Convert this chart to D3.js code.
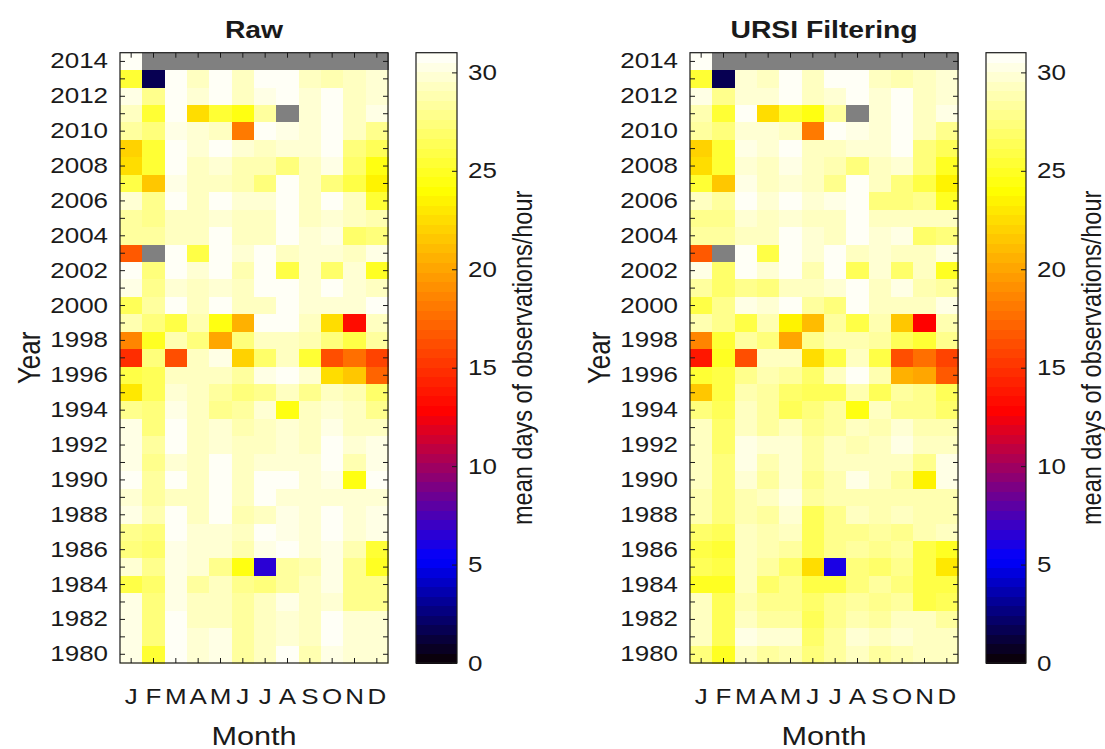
<!DOCTYPE html>
<html><head><meta charset="utf-8">
<script src="https://cdn.jsdelivr.net/npm/d3@7"></script>
<style>
body{margin:0;background:#fff}
svg text{font-family:"Liberation Sans",Arial,Helvetica,sans-serif;fill:#1a1a1a}
</style>
</head><body>
<svg id="chart" width="1105" height="749"></svg>
<script>
// ---------------- DATA ----------------
const years = d3.range(2014, 1979, -1);           // rows, top to bottom
const months = ["J","F","M","A","M","J","J","A","S","O","N","D"];
const yearTickLabels = d3.range(2014, 1979, -2);
const colorbarTicks = [0,5,10,15,20,25,30];
const colorDomain = [0, 31];
const titles = ["Raw", "URSI Filtering"];
const N = null;

const rawValues = [
[31,N,N,N,N,N,N,N,N,N,N,N],
[25.5,1.8,31,29.5,31,29.5,31,31,29.5,29,29.5,30],
[30.5,28,31,30,31,29.5,30.5,31,30,31,29.5,30],
[29.5,25.5,31,22.5,25.5,24.3,28.5,N,30,31,29.5,30.5],
[28.5,27.5,30.5,30,29.5,18,31,30.5,30,31,29.5,28],
[22,25.3,31,30,31,30,29.5,30,30,31,27.5,26.5],
[22.3,25.3,31,29.5,30,29,29,27.5,29.5,30.5,27,24.6],
[26,21.5,30.5,29.5,29.5,29,27.5,31,29.5,27.5,26,23.5],
[30,28,31,29.5,31,30,30,31,29.5,31,29.5,25.5],
[28.5,28,29.5,29.5,30,29.5,29.5,31,29.5,30,29.5,29],
[28.5,28.5,29.5,29.5,31,29.5,29.5,31,30,30.5,27,27.5],
[16.5,N,31,26,31,30,31,29.5,30,30,29.5,30.5],
[31,27.5,31,30,31,29,31,26,30,27,30,25],
[30.5,28,30,29.5,30,29.5,31,31,30,31,30,29.5],
[26.5,28.5,31,29.5,31,29.5,29.5,31,30,30,30,31],
[29,27.5,26,29,24.5,20.5,31,31,29.5,22.5,13.5,29.5],
[18.5,25,29,27.5,20,27.5,29.5,29.5,29,27.5,26,28.5],
[15,27.5,16,29.5,30.5,22,27,29.5,25.5,16,17.5,15.5],
[26,26.5,29.5,29.5,29.5,28.5,30.5,31,30,22.5,21.5,17],
[23,26.5,30,29.5,28.5,27.5,28,29.5,28,29.5,29,27],
[28,27.5,30.5,29.5,28,28.5,30,24.5,29.5,30,29.5,28],
[30.5,27.5,31,29.5,30,29,29.5,30,29.5,30.5,29.5,29.5],
[30.5,28.5,31,29.5,30,29.5,29.5,30,29.5,31,30,30.5],
[30.5,28,30,29.5,31,29.5,30,30,30,31,29,30.5],
[31,28.5,31,29.5,31,29.5,31,31,30,30.5,24.5,31],
[30,28.5,29.5,29.5,31,29.5,31,30,30,30,30,30],
[30.5,29,31,29.5,31,29,29.5,30.5,30,31,30,30.5],
[28,27.5,31,30,30,29.5,31,30.5,30,31,30,30.5],
[27.5,27,30.5,30,30,29,30.5,31,30,30.5,29,25.5],
[30,28,30.5,30,28,24.5,6.3,28.5,29,30.5,28,25],
[26,27,30.5,28.5,29.5,28,27.5,28.5,29.5,30.5,28,28],
[30.5,27.5,30.5,29.5,29.5,28.5,29.5,30.5,29.5,30,28,28],
[30.5,27.5,31,29.5,29.5,28.5,29.5,30,29.5,31,30,30],
[30.5,27.5,31,30,30.5,28.5,29.5,30,29.5,31,30,30],
[30.5,25.3,31,30,30.5,28.5,29.5,31,29,30.5,30,30]
];

const ursiValues = [
[31,N,N,N,N,N,N,N,N,N,N,N],
[25.5,1.8,30,29.5,31,29.5,31,31,29.5,29,29.5,30],
[30.5,28,30,30,31,29.5,30,31,30,31,29.5,30],
[29,25.3,31,22.5,25.5,24.3,28.5,N,30,31,29.5,30.5],
[28.5,27.5,30,30,29.5,18,31,30.5,30,31,29.5,28],
[22,25.3,30.5,30,31,29.5,29.5,30,30,31,27.5,26.5],
[22.3,25.3,30,29.5,30.5,29.5,29,27.5,29.5,30,27.5,24.8],
[25.3,21.5,30.5,29.5,30,29.5,28,31,29.5,27.5,26,23.5],
[29.5,28.5,31,30,31,30,30.5,31,27.5,27.5,28,25],
[28,28,30,29.5,30,29.5,29.5,31,29.5,29.5,29.5,29.5],
[28.5,28.5,29.5,29.5,31,30,29.5,31,30,30.5,27,27.5],
[16.5,N,31,26,31,30,31,29.5,30,29.5,29.5,30.5],
[30.5,27,31,30,31,29,31,26.5,30,27,29.5,25],
[28.5,27,28,27.5,29.5,29.5,30,31,29.5,30.5,29,28.5],
[26,28,30.5,30,31,28.5,27.5,31,29.5,29.5,29.5,30.5],
[29,28,26,29,23.5,21,28.5,26,29,21.5,13,29],
[18.5,25.3,28.5,27.5,20,28,29,29,28.5,26.5,25.5,28],
[14,25,16,29.5,29.5,22.5,26,29.5,26,16,17.5,15.5],
[25.5,26,28,29,28.5,27,29.5,31,29,20.5,20,16.5],
[21.5,26,29,28.5,27,26.5,26.5,29,26.5,28.5,28,26.5],
[27.5,26.5,29.5,28.5,26.5,27.5,28.5,24.3,29.5,28,28,27],
[29.5,27,29.5,28.5,29.5,28,28.5,29.5,29,30,29,29],
[29.5,27,30.5,30,30,28.5,29.5,29,29.5,30.5,29.5,29.5],
[29.5,27.5,30.5,29,30,28.5,29.5,29.5,29.5,29.5,28,30.5],
[29.5,27.5,30,28.5,30,28,29,30.5,29.5,28.5,23.5,30.5],
[29,27.5,29,29.5,30.5,28.5,29,29,29,29,29,29],
[29,27.5,29,28.5,30,26.5,28,29.5,29,29.5,29,29],
[27,26.5,29.5,29,29.5,26.5,28,28,28.5,28,29,29.5],
[26,25.5,29.5,29,28.5,26.5,28,28.5,28,28.5,26,25],
[26.5,26,29.5,28.5,27,22.5,6.0,27.5,27,28,26,23],
[25,25,29.5,27,28,26,26,27.5,28.5,27.5,26,26],
[29.5,26.5,29,28,28,27,28,28.5,28,28.5,26,26.5],
[29.5,26.5,29.5,28.5,28.5,26.5,28,29,28.5,29.5,29.5,28.5],
[29.5,26.5,30.5,30,30,27,28.5,30,29.5,30,29.5,29.5],
[27.5,25,29.5,28.5,29,27.5,28.5,29.5,28.5,29,29.5,29.5]
];

// ---------------- STYLE / LAYOUT ----------------
const SX = 1.18;          // horizontal text stretch of the reference
const TICK_FS = 22, LABEL_FS = 26, TITLE_FS = 24, CB_LABEL_FS = 23.5;
const yTop = 52.7, yBot = 663;
const panels = [
  {x0: 120, x1: 388, cb0: 416, cb1: 457, data: rawValues, title: titles[0]},
  {x0: 690, x1: 958, cb0: 986, cb1: 1026, data: ursiValues, title: titles[1]}
];
const NLEV = 64;
const cmapCont = d3.scaleLinear()
  .domain([0, 5.3, 12.8, 24, 31])
  .range(["#0a0000", "#0000ff", "#ff0000", "#ffff00", "#ffffff"])
  .interpolate(d3.interpolateRgb).clamp(true);
const levelOf = v => Math.max(0, Math.min(NLEV - 1, Math.floor((v - colorDomain[0]) / (colorDomain[1] - colorDomain[0]) * NLEV)));
const levelColor = l => cmapCont(colorDomain[0] + (l + 0.5) / NLEV * (colorDomain[1] - colorDomain[0]));
const colorOf = v => v == null ? "#808080" : levelColor(levelOf(v));

const svg = d3.select("#chart");

function stretchText(sel) {
  sel.each(function() {
    const x = +this.getAttribute("x") || 0;
    const y = +this.getAttribute("y") || 0;
    d3.select(this).attr("transform", `translate(${x},${y}) scale(${SX},1) translate(${-x},${-y})`);
  });
}
function addText(g, x, y, str, opts) {
  return g.append("text")
    .attr("transform", `translate(${x},${y}) scale(${SX},1)` + (opts.rotate ? ` rotate(${opts.rotate})` : ""))
    .attr("text-anchor", opts.anchor || "middle")
    .attr("font-size", opts.size)
    .attr("font-weight", opts.weight || "normal")
    .text(str);
}

panels.forEach(p => {
  const g = svg.append("g");
  const x = d3.scaleBand().domain(d3.range(12)).range([p.x0, p.x1]);
  const y = d3.scaleBand().domain(years).range([yTop, yBot]);

  const cells = [];
  p.data.forEach((row, i) => row.forEach((v, j) => cells.push({year: years[i], m: j, v})));
  g.append("g").selectAll("rect").data(cells).join("rect")
    .attr("x", d => x(d.m)).attr("y", d => y(d.year))
    .attr("width", x.bandwidth() + 0.6).attr("height", y.bandwidth() + 0.6)
    .attr("fill", d => colorOf(d.v))
    .attr("shape-rendering", "crispEdges");

  const yl = g.append("g").attr("transform", `translate(${p.x0},0)`)
    .call(d3.axisLeft(y).tickValues(years).tickSizeInner(-5).tickSizeOuter(0).tickPadding(12)
      .tickFormat(d => yearTickLabels.includes(d) ? d : ""));
  const yr = g.append("g").attr("transform", `translate(${p.x1},0)`)
    .call(d3.axisRight(y).tickValues(years).tickSizeInner(-5).tickSizeOuter(0).tickFormat(""));
  const xb = g.append("g").attr("transform", `translate(0,${yBot})`)
    .call(d3.axisBottom(x).tickSizeInner(-5).tickSizeOuter(0).tickPadding(25).tickFormat(i => months[i]));
  const xt = g.append("g").attr("transform", `translate(0,${yTop})`)
    .call(d3.axisTop(x).tickSizeInner(-5).tickSizeOuter(0).tickFormat(""));
  [yl, yr, xb, xt].forEach(a => {
    a.select(".domain").remove();
    a.attr("font-family", null);
    a.selectAll("line").attr("stroke", "#1a1a1a");
    a.selectAll("text").attr("font-size", TICK_FS).call(stretchText);
  });
  g.append("rect").attr("x", p.x0).attr("y", yTop).attr("width", p.x1 - p.x0).attr("height", yBot - yTop)
    .attr("fill", "none").attr("stroke", "#1a1a1a").attr("stroke-width", 1.2);

  const cx = (p.x0 + p.x1) / 2;
  addText(g, cx, 38, p.title, {size: TITLE_FS, weight: "bold"});
  addText(g, cx, 745, "Month", {size: LABEL_FS});
  addText(g, p.x0 - 80, (yTop + yBot) / 2, "Year", {size: LABEL_FS, rotate: -90});

  const cy = d3.scaleLinear().domain(colorDomain).range([yBot, yTop]);
  const levels = d3.range(NLEV);
  const lh = (yBot - yTop) / NLEV;
  g.append("g").selectAll("rect").data(levels).join("rect")
    .attr("x", p.cb0).attr("width", p.cb1 - p.cb0)
    .attr("y", l => cy(colorDomain[0] + (l + 1) / NLEV * (colorDomain[1] - colorDomain[0])))
    .attr("height", lh + 0.5)
    .attr("fill", l => levelColor(l))
    .attr("shape-rendering", "crispEdges");
  const ca = g.append("g").attr("transform", `translate(${p.cb1},0)`)
    .call(d3.axisRight(cy).tickValues(colorbarTicks).tickSizeInner(-5).tickSizeOuter(0).tickPadding(11));
  ca.select(".domain").remove();
  ca.attr("font-family", null);
  ca.selectAll("line").attr("stroke", "#1a1a1a");
  ca.selectAll("text").attr("font-size", TICK_FS).call(stretchText);
  g.append("rect").attr("x", p.cb0).attr("y", yTop).attr("width", p.cb1 - p.cb0).attr("height", yBot - yTop)
    .attr("fill", "none").attr("stroke", "#1a1a1a").attr("stroke-width", 1.2);
  addText(g, p.cb1 + 75, (yTop + yBot) / 2, "mean days of observations/hour", {size: CB_LABEL_FS, rotate: -90});
});
</script>
</body></html>
